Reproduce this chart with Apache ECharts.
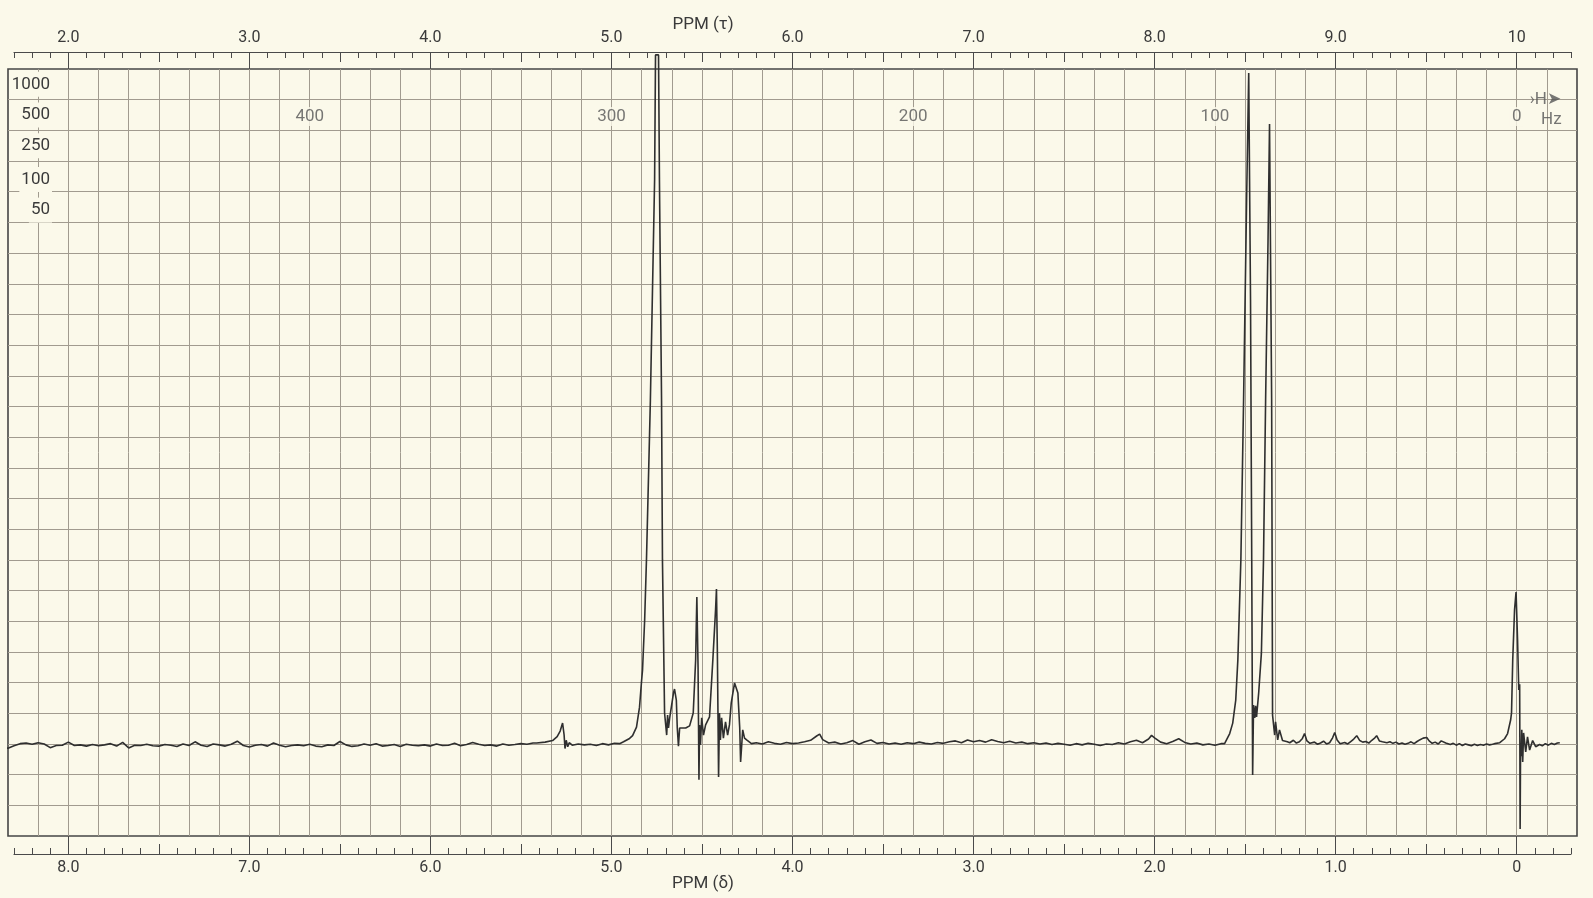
<!DOCTYPE html>
<html>
<head>
<meta charset="utf-8">
<title>PPM spectrum</title>
<script src="https://cdn.jsdelivr.net/npm/echarts@6/dist/echarts.min.js"></script>
<style>
  html, body { margin: 0; padding: 0; background: #fbf9ea; }
  #chart { width: 1593px; height: 898px; }
</style>
</head>
<body>
<div id="chart"></div>
<script>
// 60 MHz recorder chart: the x data unit is Hz from the reference (1 ppm = 60 Hz).
const PAPER = '#fbf9ea';
const INK = '#2f2f2f';
const GRIDLINE = '#a19b8f';

// Whole-ppm positions (Hz) with their delta and tau labels
const ppmHz       = [0, 60, 120, 180, 240, 300, 360, 420, 480];
const deltaLabels = ['0', '1.0', '2.0', '3.0', '4.0', '5.0', '6.0', '7.0', '8.0'];
const tauLabels   = ['10', '9.0', '8.0', '7.0', '6.0', '5.0', '4.0', '3.0', '2.0'];
// Half-ppm marks (Hz)
const halfPpmHz = [30, 90, 150, 210, 270, 330, 390, 450];
// Hz sweep labels
const hzMarks = [400, 300, 200, 100, 0];
// Spectrum amplitude settings printed down the left edge, with their chart rows
const ampLabels = ['1000', '500', '250', '100', '50'];
const ampRows   = [245, 235, 225, 214, 204];

// Trace, [Hz, pen height], sweeping from 500 Hz down to the reference line
const driftA = [
  [501.6, 29.0], [500, 28.6], [498, 29.4], [496, 30.1], [494, 30.3], [492, 29.9], [490, 30.4], [488, 30.0],
  [486, 28.8], [484, 29.5], [482, 29.6], [480, 30.6], [478, 29.5], [476, 29.7], [474, 29.3], [472, 29.8],
  [470, 29.4], [468, 29.7], [466, 30.1], [464, 29.3], [462, 30.5], [460, 28.7], [458, 29.6], [456, 29.5],
  [454, 29.9], [452, 29.4], [450, 29.3], [448, 29.8], [446, 29.6], [444, 29.2], [442, 30.0], [440, 29.5],
  [438, 30.7], [436, 29.6], [434, 29.2], [432, 30.0], [430, 29.7], [428, 29.3], [426, 29.9], [424, 30.9],
  [422, 29.5], [420, 29.0], [418, 29.6], [416, 29.8], [414, 29.3], [412, 30.3], [410, 29.6], [408, 29.1],
  [406, 29.5], [404, 29.7], [402, 29.4], [400, 29.9], [398, 29.3], [396, 29.1], [394, 29.7], [392, 29.5],
  [390, 30.8], [388, 29.7], [386, 29.2], [384, 29.4], [382, 30.0], [380, 29.6], [378, 30.1], [376, 29.3],
  [374, 29.5], [372, 29.8], [370, 29.2], [368, 29.9], [366, 29.6], [364, 29.4], [362, 29.7], [360, 29.3],
  [358, 30.0], [356, 29.5], [354, 29.6], [352, 30.2], [350, 29.4], [348, 29.8], [346, 30.5], [344, 29.9],
  [342, 29.5], [340, 29.7], [338, 29.3], [336, 30.0], [334, 29.6], [332, 29.8], [330, 30.1], [328, 29.9],
  [326, 30.3], [324.8, 30.3]
];
const signal53 = [
  [322, 30.6], [319.5, 31.1], [318, 32.4], [317, 34.2], [316.2, 36.8], [315.7, 33.0], [315.4, 28.5],
  [315, 31.2], [314.5, 29.1], [314, 30.4], [313, 29.6], [311, 30.0], [309, 29.7], [307, 29.9],
  [305, 29.5], [303, 30.1], [301, 29.7], [299, 30.2], [297.3, 30.1]
];
const signal475 = [
  [296, 30.7], [294, 31.8], [293, 32.7], [291.7, 35.5], [290.7, 42.0], [290, 50.8], [289.7, 54.1],
  [289, 70.4], [288.4, 90], [287.1, 142], [285.7, 214], [285.4, 254.6], [284.4, 254.6], [284.1, 214],
  [283.4, 142], [283.1, 90], [282.4, 40.1], [281.7, 32.9], [281.4, 39.4], [281.1, 35.2], [280.7, 38.5]
];
const quartet44 = [
  [280.2, 38.8], [279.4, 46.9], [279.1, 47.9], [278.5, 44.3], [278.2, 35.5], [277.8, 29.3], [277.4, 35.2],
  [276.8, 34.6], [275.4, 35.2], [274.1, 35.9], [272.9, 40.1], [272.1, 57.4], [271.9, 68.1], [271.7, 77.9],
  [271.3, 55.0], [271.0, 18.3], [270.8, 36.2], [270.5, 29.7], [270.1, 38.5], [269.5, 32.9], [268.8, 36.2],
  [268.2, 36.8], [267.5, 38.8], [266.4, 57.4], [265.5, 73.7], [265.2, 80.5], [264.9, 60.0], [264.5, 19.2],
  [264.2, 40.1], [263.9, 31.3], [263.5, 38.5], [262.9, 31.9], [262.2, 37.2], [261.5, 32.9], [260.9, 36.2],
  [260.3, 43.4], [259.2, 49.9], [258.6, 50.5], [258.1, 46.6], [257.5, 35.5], [257.2, 24.1], [256.5, 34.6],
  [255.9, 31.9], [255.2, 31.3], [253.6, 30.1]
];
const driftB = [
  [252, 30.4], [250, 30.0], [248, 30.7], [246, 30.2], [244, 29.9], [242, 30.5], [240, 30.1], [238, 30.3],
  [236, 30.7], [234, 31.2], [232, 32.6], [231, 33.2], [230, 31.4], [228, 30.3], [226, 30.6], [224, 30.0],
  [222, 30.4], [220, 31.1], [218, 29.9], [216, 30.7], [214, 31.3], [212, 30.2], [210, 30.5], [208, 30.0],
  [206, 30.3], [204, 29.9], [202, 30.4], [200, 30.1], [198, 30.6], [196, 30.2], [194, 30.0], [192, 30.5],
  [190, 30.2], [188, 30.7], [186, 31.0], [184, 30.4], [182, 31.3], [180, 30.7], [178, 31.1], [176, 30.6],
  [174, 31.4], [172, 30.8], [170, 30.4], [168, 30.9], [166, 30.3], [164, 30.6], [162, 30.1], [160, 30.4],
  [158, 30.0], [156, 30.3], [154, 29.8], [152, 30.2], [150, 29.9], [148, 29.6], [146, 30.1], [144, 29.7],
  [142, 30.2], [140, 29.9], [138, 29.5], [136, 30.0], [134, 29.8], [132, 30.4], [130, 30.0], [128, 30.7],
  [126, 31.2], [124, 30.4], [122, 31.6], [121, 32.8], [120, 32.0], [118, 30.6], [116, 30.1], [114, 30.8],
  [112, 31.7], [110, 30.5], [108, 30.0], [106, 30.3], [104, 29.7], [102, 30.0], [100, 29.6], [98, 30.1],
  [96.8, 30.1]
];
const doublet14 = [
  [95.1, 33.4], [94.1, 36.8], [93.1, 44.3], [92.4, 57.4], [91.4, 90.0], [90.5, 142], [89.5, 207.3],
  [88.8, 248.7], [88.5, 248.7], [88.2, 174.7], [87.8, 90], [87.5, 19.9], [87.2, 42.7], [86.8, 38.5],
  [86.5, 42.4], [86.2, 38.8], [85.5, 46.6], [84.6, 59.6], [83.9, 90], [83.2, 142], [82.4, 194],
  [81.9, 232.1], [81.5, 232.1], [81.2, 142], [80.9, 39.4], [80.2, 32.9], [79.9, 37.2], [79.2, 31.3],
  [78.6, 34.6], [77.6, 31.1]
];
const driftC = [
  [76, 30.7], [75.2, 30.4], [74, 31.2], [73, 30.3], [72, 30.7], [71, 31.8], [70.3, 33.4], [69.5, 31.0],
  [68.5, 30.2], [67, 30.6], [66, 29.9], [65, 30.3], [64, 30.9], [63, 30.0], [62, 30.4], [61, 32.0],
  [60.3, 33.7], [59.5, 31.3], [58.5, 30.1], [57, 30.5], [56, 30.0], [55, 30.8], [54, 31.6], [53, 32.7],
  [52, 31.1], [51, 30.6], [50, 30.8], [49, 30.3], [48, 31.2], [47, 32.0], [46.4, 32.7], [45.5, 31.0],
  [44.5, 30.7], [43, 30.4], [42, 30.7], [41, 30.2], [40, 30.6], [39, 30.0], [38, 30.3], [37, 29.9],
  [36, 30.2], [35, 30.7], [34, 30.1], [33, 30.8], [32, 31.4], [31, 31.9], [29.8, 32.1], [29, 31.0],
  [28, 30.2], [27, 30.6], [26, 30.0], [25, 31.0], [24.5, 31.4], [23.5, 30.3], [22, 29.8], [21, 30.2],
  [20, 29.6], [19, 30.1], [18, 29.5], [17, 30.0], [16, 29.7], [15, 29.4], [14, 29.9], [13, 29.5],
  [12, 29.8], [11, 29.6], [10, 30.0], [9, 29.7], [8, 29.9], [7.3, 30.1]
];
const tmsRef = [
  [5.6, 30.4], [4.0, 31.7], [3.0, 33.4], [2.0, 37.8], [1.7, 40.1], [1.3, 57.4], [0.7, 73.7], [0.2, 79.5],
  [-0.3, 63.9], [-0.7, 47.6], [-1.0, 49.5], [-1.15, 2.3], [-1.3, 30.0], [-1.5, 26.0], [-1.7, 34.6],
  [-2.0, 24.1], [-2.3, 33.6], [-3.0, 27.4], [-3.6, 32.3], [-4.3, 28.0], [-5.3, 31.1], [-6.3, 29.1],
  [-7.6, 29.8], [-8.5, 29.4], [-9.5, 30.1], [-10.5, 29.6], [-11.5, 30.2], [-12.5, 29.8], [-13.5, 30.3],
  [-14.3, 30.4]
];

const trace = [].concat(driftA, signal53, signal475, quartet44, driftB, doublet14, driftC, tmsRef);

const FONT = 'Roboto';
const tauText = v => tauLabels[ppmHz.indexOf(v)];
const deltaText = v => deltaLabels[ppmHz.indexOf(v)];

// Three overlaid axes per printed scale: 0.1 ppm ticks with the scale line,
// half-ppm ticks, and whole-ppm ticks carrying the labels.
function scaleAxes(position, offset, withLabels) {
  const base = {
    type: 'value', gridIndex: 1, position: position, offset: offset,
    min: -18, max: 498, inverse: true,
    splitLine: { show: false }
  };
  return [
    Object.assign({}, base, {
      interval: 6,
      axisLine: { show: true, onZero: false, lineStyle: { color: '#4a4a4a', width: 1.2 } },
      axisTick: { show: true, inside: true, length: 6, lineStyle: { color: '#4a4a4a', width: 1 } },
      axisLabel: { show: false }
    }),
    Object.assign({}, base, {
      axisLine: { show: false, onZero: false },
      axisTick: { show: true, inside: true, length: 10, customValues: halfPpmHz,
                  lineStyle: { color: '#4a4a4a', width: 1 } },
      axisLabel: { show: false }
    }),
    Object.assign({}, base, {
      axisLine: { show: false, onZero: false },
      axisTick: { show: true, inside: true, length: offset, customValues: ppmHz,
                  lineStyle: { color: '#4a4a4a', width: 1 } },
      axisLabel: { show: true, customValues: ppmHz, margin: 6,
                   formatter: withLabels, color: '#3a3a3a',
                   fontFamily: FONT, fontSize: 16 }
    })
  ];
}

const chart = echarts.init(document.getElementById('chart'), null, { renderer: 'canvas' });

chart.setOption({
  animation: false,
  backgroundColor: PAPER,
  grid: [
    { left: 8, right: 16, top: 69, bottom: 62, show: true,
      borderColor: '#454545', borderWidth: 1.6, backgroundColor: 'transparent' },
    { left: 14, right: 22, top: 69, bottom: 62, show: false }
  ],
  xAxis: [
    { type: 'value', gridIndex: 0, min: -20, max: 500, interval: 10, inverse: true,
      axisLine: { show: false, onZero: false }, axisTick: { show: false }, axisLabel: { show: false },
      splitLine: { show: true, showMinLine: false, showMaxLine: false,
                   lineStyle: { color: GRIDLINE, width: 1 } } }
  ].concat(scaleAxes('top', 17, tauText), scaleAxes('bottom', 18, deltaText)),
  yAxis: [
    { type: 'value', gridIndex: 0, min: 0, max: 250, interval: 10,
      axisLine: { show: false, onZero: false }, axisTick: { show: false }, axisLabel: { show: false },
      splitLine: { show: true, showMinLine: false, showMaxLine: false,
                   lineStyle: { color: GRIDLINE, width: 1 } } },
    { type: 'value', gridIndex: 0, min: 0, max: 250, position: 'left',
      axisLine: { show: false, onZero: false }, axisTick: { show: false }, splitLine: { show: false },
      axisLabel: { show: true, inside: true, margin: 44, align: 'right',
                   customValues: ampRows,
                   formatter: v => ampLabels[ampRows.indexOf(v)],
                   color: '#3a3a3a', fontFamily: FONT, fontSize: 17,
                   backgroundColor: PAPER, padding: [4, 2] } },
    { type: 'value', gridIndex: 1, min: 0, max: 1, show: false }
  ],
  graphic: [
    { type: 'text', x: 703, y: 25, z: 10,
      style: { text: 'PPM (τ)', align: 'center', verticalAlign: 'middle',
               fill: '#3a3a3a', font: '17px Roboto' } },
    { type: 'text', x: 703, y: 884, z: 10,
      style: { text: 'PPM (δ)', align: 'center', verticalAlign: 'middle',
               fill: '#3a3a3a', font: '17px Roboto' } }
  ],
  series: [
    {
      type: 'line', xAxisIndex: 0, yAxisIndex: 0,
      data: trace, showSymbol: false, symbol: 'none', clip: false, z: 5,
      lineStyle: { color: INK, width: 1.6 }
    },
    {
      // Hz sweep labels across the second row
      type: 'scatter', xAxisIndex: 0, yAxisIndex: 0, symbolSize: 0, z: 4,
      data: hzMarks.map(h => [h, 234.5]),
      label: { show: true, position: 'inside', formatter: p => String(p.value[0]),
               color: '#555', fontFamily: FONT, fontSize: 17,
               backgroundColor: PAPER, padding: [1, 2] }
    },
    {
      // field-sweep direction and unit marks at the right edge
      type: 'scatter', xAxisIndex: 0, yAxisIndex: 0, symbolSize: 0, z: 4,
      data: [
        { name: 'Hz', value: [-11.5, 233.5] },
        { name: '›H➤', value: [-9.5, 240] }
      ],
      label: { show: true, position: 'inside', formatter: p => p.name,
               color: '#555', fontFamily: FONT, fontSize: 17 }
    }
  ]
});
</script>
</body>
</html>
